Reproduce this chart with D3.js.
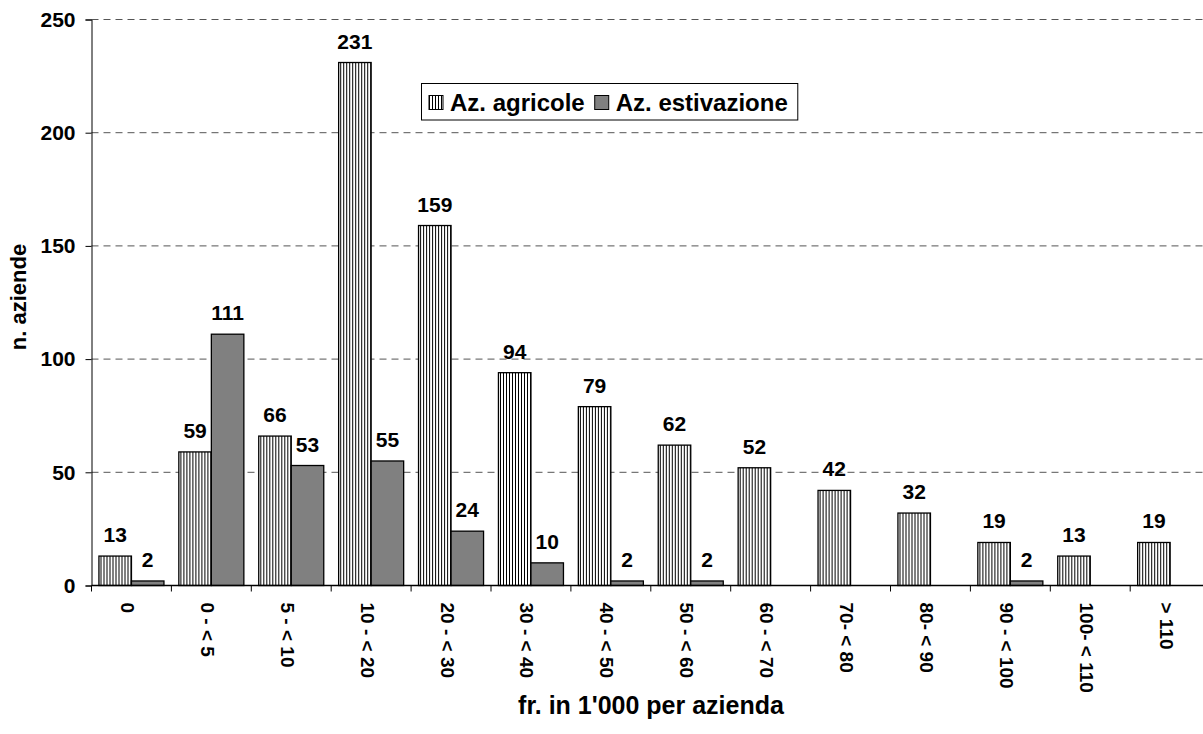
<!DOCTYPE html>
<html>
<head>
<meta charset="utf-8">
<script src="https://cdn.jsdelivr.net/npm/d3@7"></script>
<style>
  html, body { margin: 0; padding: 0; background: #fff; }
  svg { display: block; font-family: "Liberation Sans", Arial, sans-serif; font-weight: bold; }
</style>
</head>
<body>
<svg id="chart" width="1203" height="734"></svg>
<script>
const categories = ["0", "0 - < 5", "5 - < 10", "10 - < 20", "20 - < 30", "30 - < 40", "40 - < 50",
  "50 - < 60", "60 - < 70", "70- < 80", "80- < 90", "90 - < 100", "100- < 110", "> 110"];
const seriesNames = ["Az. agricole", "Az. estivazione"];
const agricole = [13, 59, 66, 231, 159, 94, 79, 62, 52, 42, 32, 19, 13, 19];
const estivazione = [2, 111, 53, 55, 24, 10, 2, 2, null, null, null, 2, null, null];
const yTicks = [0, 50, 100, 150, 200, 250];
const yTitle = "n. aziende";
const xTitle = "fr. in 1'000 per azienda";

(function () {
const svg = d3.select("#chart");
const W = 1203;
const pLeft = 91.5, pTop = 19.5, pBottom = 585.5;
const step = 79.9;
const pRight = pLeft + step * categories.length;
const FONT = "Liberation Sans, Arial, sans-serif";

const defs = svg.append("defs");
const pat = defs.append("pattern").attr("id", "hatch").attr("patternUnits", "userSpaceOnUse")
  .attr("width", 3).attr("height", 4);
pat.append("rect").attr("width", 3).attr("height", 4).attr("fill", "#fff");
pat.append("rect").attr("x", 0).attr("width", 1).attr("height", 4).attr("fill", "#000");

const x = d3.scaleBand().domain(categories).range([pLeft, pRight]).paddingInner(0).paddingOuter(0);
const x1 = d3.scaleBand().domain(seriesNames).range([0, x.bandwidth()]).paddingInner(0).paddingOuter(0.229);
const y = d3.scaleLinear().domain([0, 250]).range([pBottom, pTop]);

const fills = { "Az. agricole": "url(#hatch)", "Az. estivazione": "#808080" };

// gridlines
svg.append("g").selectAll("line").data(yTicks.filter(d => d > 0)).join("line")
  .attr("x1", pLeft).attr("x2", W).attr("y1", d => y(d)).attr("y2", d => y(d))
  .attr("stroke", "#555").attr("stroke-width", 1).attr("stroke-dasharray", "7,5");

// y axis
const yAxis = d3.axisLeft(y).tickValues(yTicks).tickSize(6).tickPadding(10).tickFormat(d3.format("d"));
const gy = svg.append("g").attr("transform", `translate(${pLeft},0)`).call(yAxis);
gy.select(".domain").attr("stroke", "#000");
gy.selectAll(".tick line").attr("stroke", "#000");
gy.selectAll(".tick text").attr("font-size", 21).attr("font-weight", "bold")
  .attr("font-family", FONT).attr("fill", "#000");

// bars
const rows = categories.map((c, i) => ({ cat: c, vals: [
  { s: seriesNames[0], v: agricole[i] }, { s: seriesNames[1], v: estivazione[i] }] }));

const groups = svg.append("g").selectAll("g").data(rows).join("g")
  .attr("transform", d => `translate(${x(d.cat)},0)`);
groups.selectAll("rect").data(d => d.vals.filter(e => e.v !== null)).join("rect")
  .attr("x", d => x1(d.s)).attr("width", x1.bandwidth())
  .attr("y", d => y(d.v)).attr("height", d => y(0) - y(d.v))
  .attr("fill", d => fills[d.s]).attr("stroke", "#000").attr("stroke-width", 1.3);
groups.selectAll("text").data(d => d.vals.filter(e => e.v !== null)).join("text")
  .attr("x", d => x1(d.s) + x1.bandwidth() / 2).attr("y", d => y(d.v) - 14)
  .attr("text-anchor", "middle").attr("font-size", 21).attr("fill", "#000").text(d => d.v);

// x axis
const xAxis = d3.axisBottom(x).tickSize(0).tickFormat("");
const gx = svg.append("g").attr("transform", `translate(0,${pBottom})`).call(xAxis);
gx.select(".domain").remove();
gx.append("line").attr("x1", pLeft).attr("x2", W).attr("stroke", "#000").attr("stroke-width", 1.3);
gx.selectAll(".bt").data(categories).join("line").attr("class", "bt")
  .attr("x1", d => x(d)).attr("x2", d => x(d)).attr("y1", 0).attr("y2", 6).attr("stroke", "#000");
gx.selectAll(".lbl").data(categories).join("text").attr("class", "lbl")
  .attr("transform", d => `translate(${x(d) + x.bandwidth() / 2},${17}) rotate(90)`)
  .attr("dy", "0.55em").attr("text-anchor", "start").attr("font-size", 19)
  .attr("font-family", FONT).attr("font-weight", "bold").attr("fill", "#000").text(d => d);

// axis titles
svg.append("text").attr("transform", `translate(26,297) rotate(-90)`)
  .attr("text-anchor", "middle").attr("font-size", 22).attr("fill", "#000").text(yTitle);
svg.append("text").attr("x", 651).attr("y", 714)
  .attr("text-anchor", "middle").attr("font-size", 25).attr("fill", "#000").text(xTitle);

// legend
const lg = svg.append("g");
const lbox = lg.append("rect").attr("x", 421.5).attr("y", 83.5).attr("height", 36.5)
  .attr("fill", "#fff").attr("stroke", "#000").attr("stroke-width", 1);
let lx = 429;
seriesNames.forEach((s) => {
  lg.append("rect").attr("x", lx).attr("y", 95.5).attr("width", 14).attr("height", 14)
    .attr("fill", fills[s]).attr("stroke", "#000").attr("stroke-width", 1);
  const t = lg.append("text").attr("x", lx + 21).attr("y", 111).attr("font-size", 24)
    .attr("fill", "#000").text(s);
  lx = lx + 21 + t.node().getComputedTextLength() + 10;
});
lbox.attr("width", lx - 421.5);
})();
</script>
</body>
</html>
